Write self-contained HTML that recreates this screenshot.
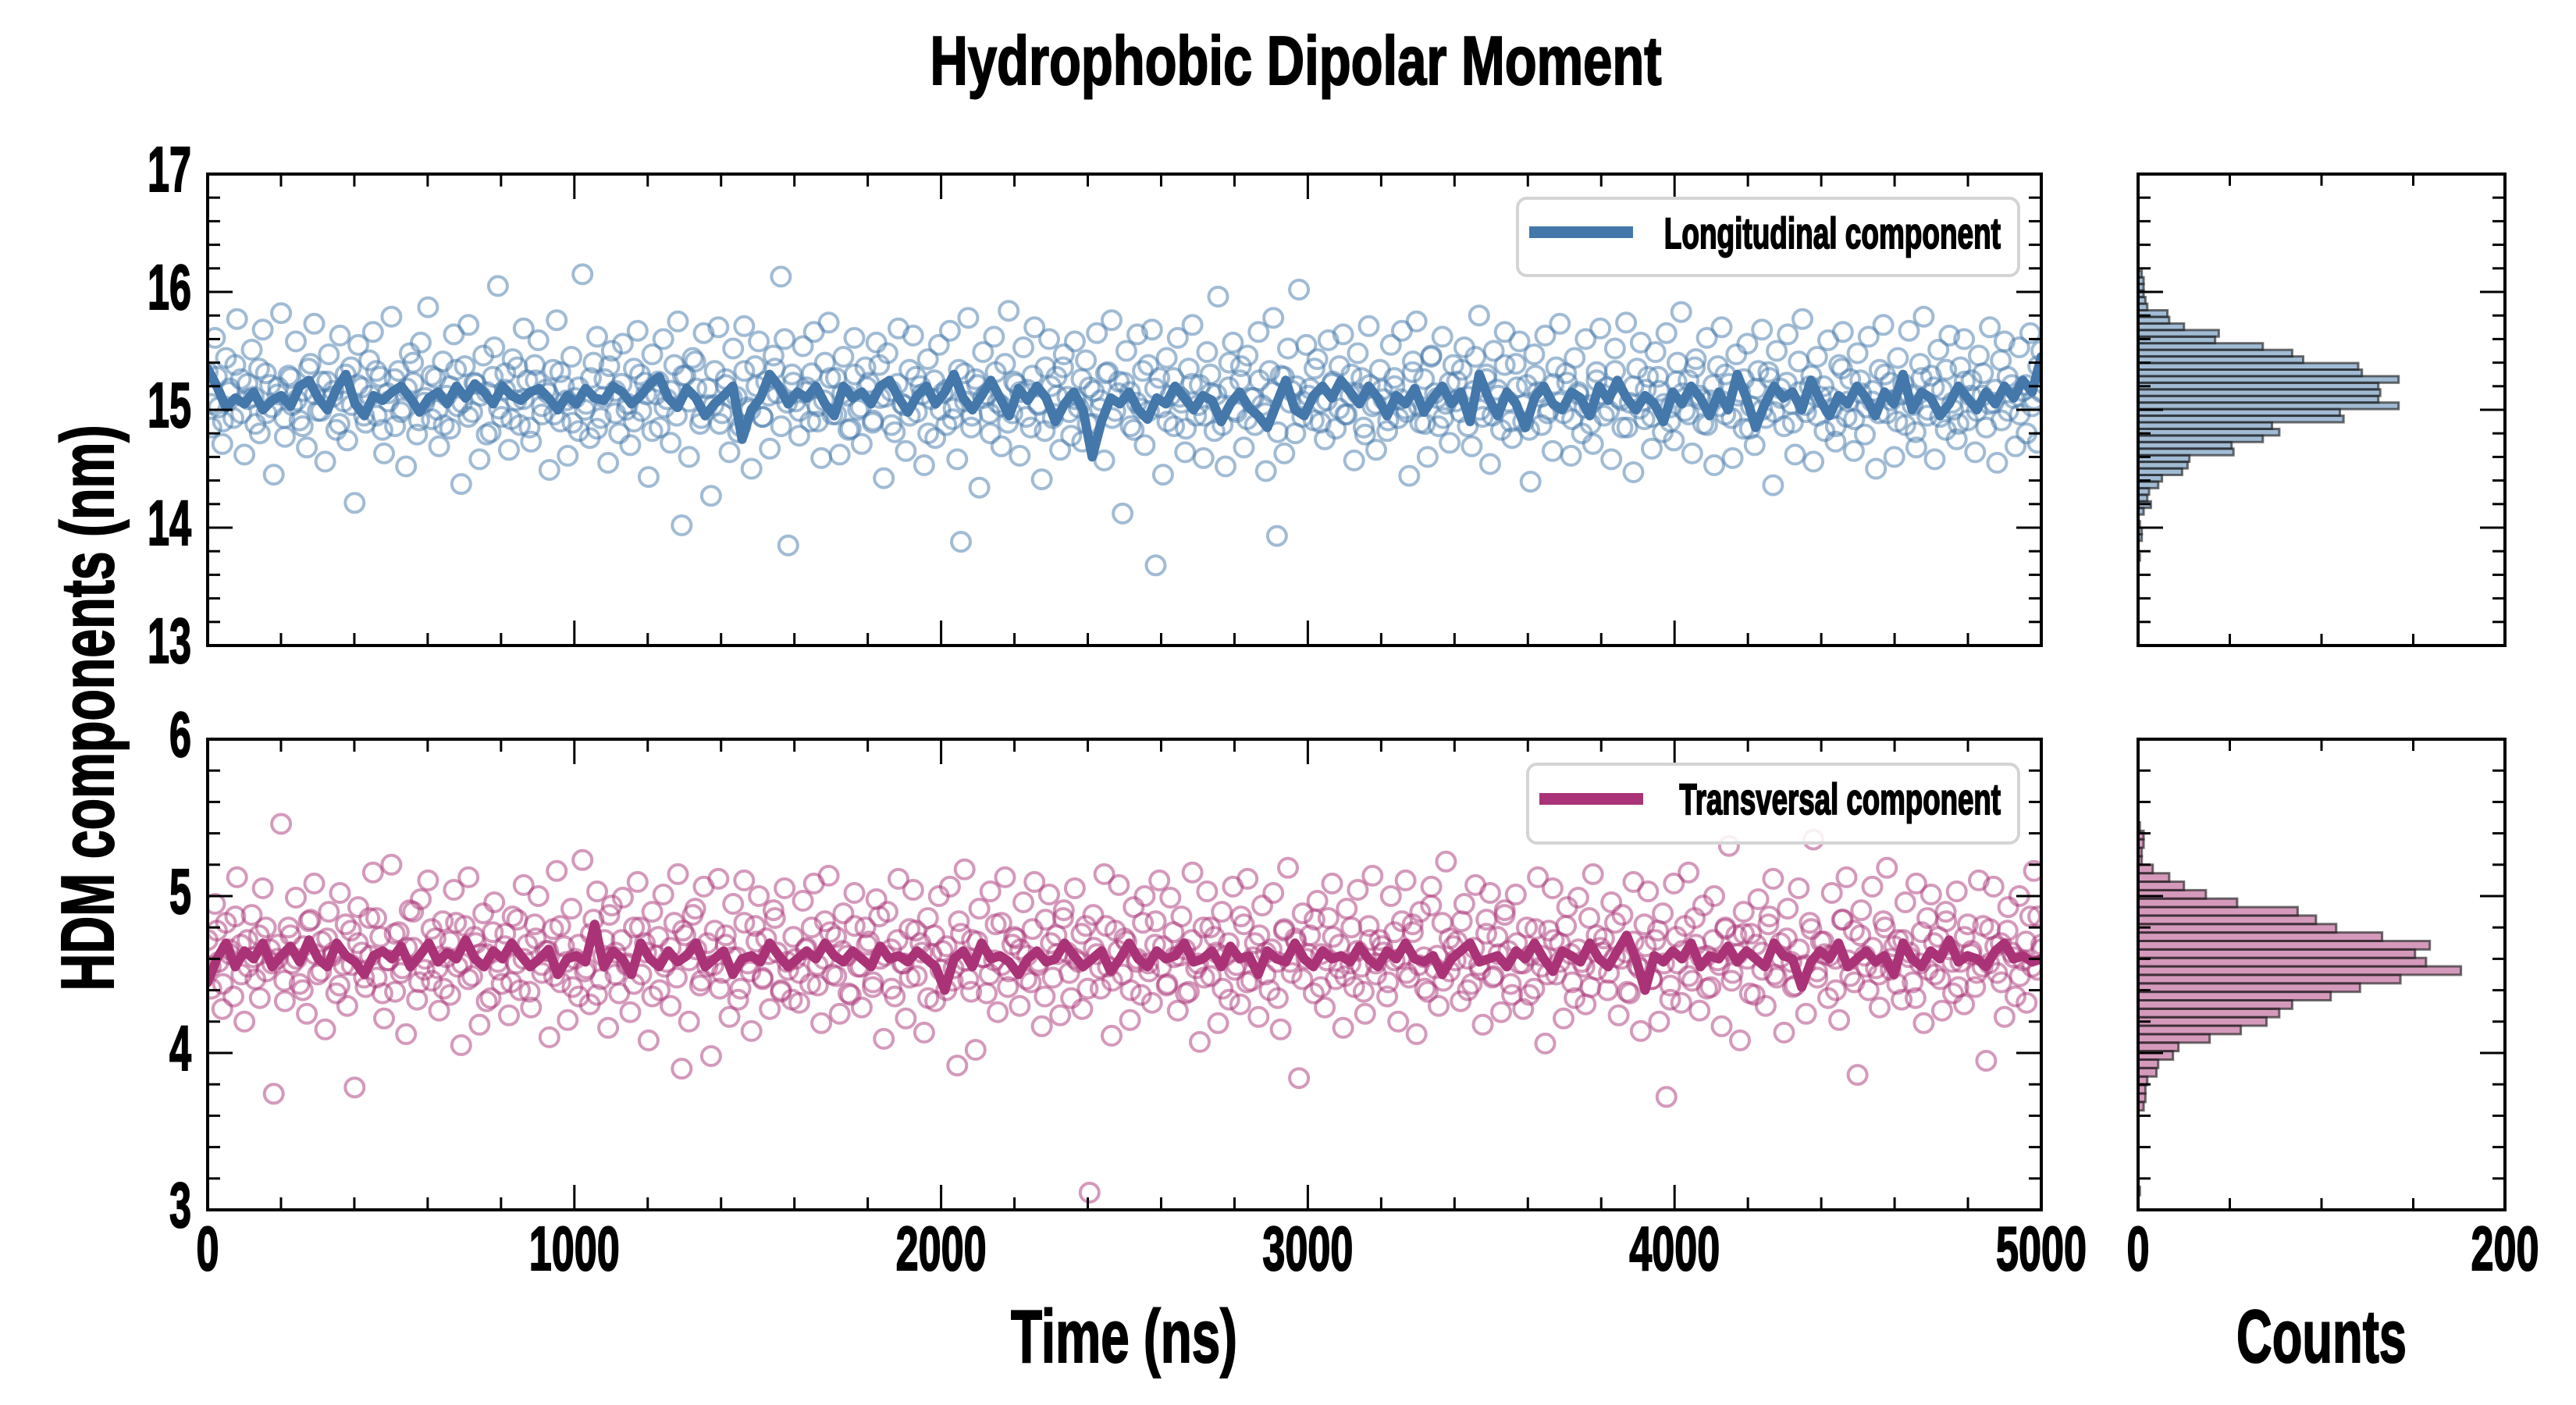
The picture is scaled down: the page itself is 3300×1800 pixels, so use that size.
<!DOCTYPE html>
<html><head><meta charset="utf-8"><title>Hydrophobic Dipolar Moment</title>
<style>html,body{margin:0;padding:0;background:#fff;}svg{display:block;}svg text{stroke:#000;stroke-width:2px;}</style></head>
<body>
<svg id="chart" xmlns="http://www.w3.org/2000/svg" width="3300" height="1800" viewBox="0 0 3300 1800" font-family="'Liberation Sans Narrow','Liberation Sans',sans-serif" font-weight="bold">
<defs>
<clipPath id="clipTop"><rect x="266" y="223" width="2349" height="604"/></clipPath>
<clipPath id="clipBot"><rect x="266" y="947" width="2349" height="603"/></clipPath>
</defs>
<rect x="0" y="0" width="3300" height="1800" fill="#fff"/>
<text x="1660" y="108" font-size="88" text-anchor="middle" textLength="937" lengthAdjust="spacingAndGlyphs">Hydrophobic Dipolar Moment</text>
<text transform="translate(145,907) rotate(-90)" font-size="96" text-anchor="middle" textLength="725" lengthAdjust="spacingAndGlyphs">HDM components (nm)</text>
<text x="1440" y="1745" font-size="96" text-anchor="middle" textLength="290" lengthAdjust="spacingAndGlyphs">Time (ns)</text>
<text x="2974" y="1745" font-size="96" text-anchor="middle" textLength="218" lengthAdjust="spacingAndGlyphs">Counts</text>
<g id="layer"></g>
</svg>
<script>
// ---------- DATA ----------
const longScatter = [
15.32,14.85,15.61,15.02,14.71,15.44,15.18,14.93,15.77,15.26,14.62,15.09,15.51,14.88,15.35,15.68,14.97,15.21,14.45,15.13,
15.82,14.77,15.29,15.04,15.58,14.91,15.16,14.68,15.39,15.73,14.99,15.24,14.56,15.47,15.11,14.83,15.63,15.07,14.74,15.36,
14.21,15.55,15.19,14.89,15.42,15.66,14.95,15.28,14.63,15.14,15.79,14.86,15.33,15.01,14.52,15.48,15.23,14.79,15.57,15.06,
15.87,14.92,15.27,14.69,15.41,15.12,14.84,15.64,15.03,14.37,15.37,15.72,14.98,15.22,14.58,15.46,15.15,14.81,15.53,16.05,
14.94,15.31,14.66,15.43,15.08,14.87,15.69,15.25,14.73,15.38,15.59,14.96,15.17,14.49,15.34,15.76,14.9,15.2,14.61,15.45,
15.1,14.82,16.15,15.05,14.76,15.4,15.62,14.93,15.26,14.55,15.5,15.16,14.8,15.56,15.0,14.7,15.35,15.67,14.99,15.23,
14.43,15.47,15.13,14.85,15.6,15.09,14.72,15.38,15.75,14.02,15.29,14.6,15.44,15.18,14.88,15.65,15.04,14.27,15.33,15.7,
14.97,15.21,14.64,15.52,15.11,14.86,15.71,15.02,14.5,15.37,15.58,14.94,15.24,14.67,15.46,15.14,16.13,15.6,13.85,15.3,
15.07,14.78,15.54,15.19,14.9,15.66,15.03,14.59,15.4,15.74,14.96,15.27,14.62,15.45,15.12,14.84,15.61,15.0,14.71,15.36,
15.23,14.89,15.57,15.1,14.42,15.48,15.16,14.81,15.69,15.05,14.65,15.34,15.63,14.98,15.2,14.53,15.43,15.09,14.76,15.55,
15.14,14.87,15.67,15.01,14.58,13.88,15.31,15.78,14.95,15.26,14.34,15.49,15.13,14.8,15.62,15.06,14.69,15.39,15.84,14.97,
15.22,14.61,15.53,15.17,14.85,15.7,15.04,14.41,15.36,15.6,14.93,15.28,14.66,15.47,15.11,14.78,15.58,15.02,14.73,15.42,
15.19,14.88,15.65,15.08,14.57,15.32,15.76,14.99,15.24,14.12,15.5,15.15,14.83,15.64,15.01,14.7,15.38,15.68,13.68,15.27,
14.45,15.44,15.12,14.86,15.61,15.06,14.64,15.35,15.72,14.95,15.21,14.59,15.49,15.14,14.82,15.96,15.03,14.52,15.4,15.57,
14.98,15.25,14.68,15.46,15.1,14.87,15.66,15.04,14.48,15.33,15.78,13.93,15.29,14.63,15.52,15.16,14.8,16.02,15.07,15.55,
15.18,14.91,15.43,15.06,14.75,15.59,15.22,14.84,15.37,15.64,14.96,15.12,14.57,15.48,15.27,14.79,15.71,15.03,14.66,15.34,
15.09,14.82,15.55,15.2,14.93,15.67,15.01,14.44,15.41,15.75,14.89,15.26,14.6,15.46,15.14,14.86,15.62,15.05,14.72,15.38,
15.24,14.98,15.53,15.11,14.69,15.45,15.8,14.94,15.3,14.54,15.5,15.17,14.83,15.66,15.07,14.76,15.39,15.58,14.9,15.21,
14.39,15.47,15.15,14.87,15.63,15.0,14.65,15.36,15.73,14.97,15.23,14.61,15.44,15.13,14.8,15.6,15.04,14.71,15.32,15.69,
14.95,15.19,14.58,15.52,15.1,14.85,15.74,15.06,14.47,15.35,15.57,14.92,15.28,14.67,15.49,15.16,14.81,15.65,15.02,14.74,
15.4,15.83,14.99,15.25,14.63,15.43,15.12,14.88,15.61,15.08,14.53,15.37,15.7,14.96,15.22,14.59,15.47,15.15,14.84,15.56,
15.03,14.7,15.33,15.68,14.93,15.27,14.36,15.5,15.18,14.86,15.64,15.05,14.62,15.41,15.77,14.98,15.2,14.56,15.45,15.11,
14.82,15.59,15.01,14.73,15.38,15.66,14.94,15.26,14.65,15.48,15.14,14.79,15.62,15.07,14.5,15.34,15.72,14.97,15.23,14.6,
15.44,15.13,14.87,15.67,15.04,14.68,15.39,15.79,14.95,15.29,14.58,15.51,15.17,14.83,15.63,15.0,14.75,15.36,15.6,14.91,
15.25,14.64,15.46,15.12,14.85,15.7,15.06,14.55,15.42,15.58,14.99,15.21,14.69,15.53,15.16,14.8,15.65,15.09,14.72,15.5];
const longScatterB = [
15.05,15.28,14.9,15.15,15.38,14.97,15.22,15.11,14.8,15.31,15.02,15.19,14.93,15.27,15.08,14.86,15.35,15.13,14.99,15.24,
15.16,14.88,15.3,15.04,15.21,14.95,15.12,15.33,14.83,15.07,15.26,14.98,15.18,15.4,14.91,15.1,15.29,15.0,14.87,15.2,
15.34,15.06,14.94,15.23,15.12,14.79,15.28,15.01,15.17,14.92,15.36,15.09,14.85,15.25,15.03,15.14,14.96,15.32,15.08,14.89,
15.19,15.0,15.27,14.84,15.11,15.37,14.97,15.22,15.05,14.9,15.3,15.13,14.82,15.24,15.02,15.16,14.95,15.29,15.07,15.41,
14.93,15.18,15.04,14.88,15.26,15.1,14.81,15.33,15.0,15.2,14.94,15.12,15.35,14.86,15.06,15.23,14.99,15.15,15.31,14.9,
15.08,15.27,14.96,15.14,14.83,15.3,15.02,15.19,14.91,15.38,15.11,14.87,15.22,15.04,14.95,15.28,15.13,14.8,15.25,15.0,
15.17,14.92,15.34,15.07,14.85,15.21,15.1,14.97,15.32,15.03,14.89,15.24,15.15,14.94,15.29,15.05,14.82,15.2,15.12,15.36,
14.98,15.09,15.26,14.88,15.16,15.01,15.31,14.93,15.14,15.23,14.86,15.06,15.33,14.99,15.18,15.02,14.9,15.27,15.11,14.84,
15.22,15.04,14.95,15.3,15.13,14.87,15.19,15.0,15.37,14.92,15.1,15.25,14.97,15.15,14.81,15.28,15.06,15.2,14.94,15.12,
15.35,14.89,15.08,15.24,15.01,14.96,15.3,15.14,14.85,15.21,15.05,15.17,14.91,15.27,15.09,14.98,15.32,15.03,14.88,15.45,
15.1,14.93,15.23,15.07,15.34,14.86,15.16,15.0,15.26,14.95,15.12,15.38,14.9,15.19,15.04,14.83,15.29,15.11,14.97,15.22,
15.06,15.31,14.92,15.15,15.02,14.88,15.25,15.13,14.99,15.33,15.08,14.85,15.2,15.01,15.17,14.94,15.28,15.05,14.9,15.24,
15.14,14.96,15.36,15.09,14.87,15.21,15.03,15.3,14.93,15.12,15.26,14.84,15.18,15.0,15.32,14.98,15.1,15.23,14.89,15.15,
15.04,15.29,14.95,15.2,15.11,14.86,15.35,15.07,14.92,15.25,15.02,15.16,14.97,15.3,15.08,14.9,15.22,15.13,14.81,15.27,
15.0,15.19,14.94,15.34,15.06,14.88,15.24,15.12,14.99,15.31,15.05,15.17,14.91,15.28,15.1,14.96,15.21,15.03,15.37,15.15];
const transScatter = [
4.72,4.41,4.95,4.58,4.28,4.83,4.63,4.36,5.12,4.69,4.2,4.55,4.88,4.47,4.75,5.05,4.52,4.66,3.74,4.6,
5.46,4.33,4.8,4.57,4.99,4.44,4.68,4.25,4.85,5.08,4.5,4.71,4.15,4.9,4.62,4.38,5.02,4.56,4.3,4.78,
3.78,4.93,4.64,4.42,4.86,5.15,4.48,4.74,4.22,4.59,5.2,4.39,4.77,4.54,4.12,4.91,4.67,4.34,4.98,4.53,
5.1,4.46,4.73,4.27,4.84,4.61,4.37,5.04,4.55,4.05,4.81,5.12,4.49,4.7,4.18,4.89,4.63,4.35,4.96,4.58,
4.44,4.76,4.24,4.87,4.57,4.4,5.07,4.69,4.29,4.82,5.0,4.51,4.65,4.1,4.79,5.16,4.45,4.68,4.21,4.92,
4.6,4.36,5.23,4.54,4.31,4.85,5.03,4.47,4.72,4.16,4.94,4.64,4.38,4.99,4.56,4.26,4.8,5.09,4.5,4.7,
4.08,4.9,4.62,4.4,5.01,4.58,4.3,4.83,5.14,3.9,4.75,4.2,4.88,4.66,4.43,5.06,4.55,3.98,4.78,5.11,
4.51,4.69,4.23,4.95,4.61,4.41,5.1,4.57,4.14,4.81,5.0,4.48,4.73,4.28,4.91,4.64,4.39,5.05,4.53,4.34,
4.6,4.32,4.97,4.67,4.44,5.08,4.56,4.19,4.84,5.13,4.5,4.74,4.25,4.89,4.62,4.37,5.02,4.55,4.29,4.8,
4.71,4.42,4.98,4.6,4.09,4.9,4.66,4.36,5.11,4.57,4.22,4.79,5.04,4.49,4.7,4.13,4.86,4.63,4.33,5.0,
4.65,4.4,5.06,4.54,3.92,4.76,5.17,4.47,4.72,4.02,4.92,4.61,4.38,5.03,4.59,4.26,4.83,5.12,4.52,4.69,
4.73,4.3,4.96,4.62,4.45,5.09,4.56,4.17,4.85,5.01,4.48,4.75,4.24,4.91,4.64,4.35,5.05,4.58,4.28,4.81,
3.11,4.88,4.63,4.41,5.14,4.55,4.11,4.78,5.07,4.5,4.71,4.21,4.93,4.6,4.37,5.0,4.57,4.32,4.84,5.1,
4.68,4.43,4.99,4.61,4.27,4.87,4.66,4.39,5.15,4.54,4.07,4.8,5.03,4.49,4.74,4.19,4.9,4.62,4.34,5.06,
4.56,4.31,4.82,5.11,4.46,4.7,4.23,4.94,4.64,4.4,5.02,4.58,4.15,4.79,5.18,4.51,4.73,3.84,4.89,4.6,
4.75,4.38,4.97,4.63,4.29,4.86,5.08,4.47,4.69,4.16,4.92,4.57,4.42,5.04,4.55,4.25,4.81,5.13,4.5,4.72,
4.64,4.36,5.0,4.59,4.2,4.84,5.1,4.48,4.77,4.12,4.9,4.61,4.39,5.06,4.54,4.3,4.83,5.22,4.52,4.68,
4.71,4.33,4.95,4.6,4.44,5.07,4.56,4.18,4.85,5.02,4.49,4.74,4.26,4.91,4.65,4.37,5.01,4.57,4.28,4.8,
4.62,4.41,5.12,4.55,4.06,4.78,5.05,4.5,4.7,4.22,4.93,4.63,4.35,4.99,4.58,4.31,4.86,5.14,4.53,4.67,
4.73,4.4,4.96,4.61,4.24,4.88,4.64,4.38,5.09,4.56,4.14,4.82,5.03,4.47,4.72,4.2,4.89,3.72,4.34,5.08,
4.57,4.32,4.81,5.15,4.46,4.69,4.27,4.94,4.62,4.42,5.0,4.59,4.17,4.79,5.32,4.51,4.75,4.08,4.9,4.6,
4.76,4.37,4.98,4.64,4.3,4.87,5.11,4.48,4.7,4.13,4.92,4.58,4.43,5.05,4.55,4.25,4.83,5.36,4.52,4.71,
4.63,4.35,5.02,4.6,4.21,4.85,5.12,4.49,4.78,3.86,4.91,4.62,4.4,5.06,4.54,4.29,4.84,5.18,4.53,4.68,
4.72,4.34,4.96,4.61,4.45,5.08,4.57,4.19,4.86,5.01,4.5,4.74,4.27,4.9,4.66,4.38,5.03,4.58,4.31,4.82,
4.65,4.42,5.1,4.55,3.95,4.79,5.06,4.51,4.7,4.23,4.93,4.64,4.36,5.0,4.59,4.32,4.87,5.16,4.53,4.69];
const transScatterB = [
4.55,4.78,4.44,4.66,4.87,4.5,4.72,4.61,4.35,4.8,4.57,4.69,4.46,4.75,4.6,4.4,4.84,4.63,4.52,4.73,
4.64,4.43,4.82,4.56,4.7,4.48,4.62,4.86,4.38,4.59,4.76,4.51,4.67,4.9,4.45,4.6,4.79,4.54,4.41,4.71,
4.83,4.57,4.47,4.74,4.63,4.33,4.77,4.53,4.68,4.45,4.85,4.6,4.39,4.73,4.56,4.65,4.49,4.81,4.58,4.42,
4.69,4.52,4.76,4.37,4.62,4.88,4.5,4.72,4.57,4.44,4.8,4.64,4.36,4.74,4.55,4.67,4.48,4.78,4.59,4.92,
4.46,4.7,4.56,4.41,4.75,4.61,4.34,4.83,4.52,4.71,4.47,4.63,4.86,4.4,4.58,4.74,4.51,4.66,4.8,4.43,
4.6,4.77,4.49,4.65,4.38,4.81,4.55,4.69,4.45,4.87,4.62,4.41,4.72,4.57,4.48,4.78,4.64,4.35,4.75,4.53,
4.68,4.46,4.84,4.59,4.39,4.71,4.61,4.5,4.82,4.56,4.42,4.74,4.66,4.47,4.79,4.58,4.36,4.7,4.63,4.86,
4.51,4.6,4.76,4.41,4.67,4.54,4.81,4.46,4.65,4.73,4.4,4.58,4.83,4.52,4.69,4.55,4.44,4.77,4.62,4.38,
4.72,4.57,4.48,4.8,4.64,4.41,4.7,4.53,4.87,4.45,4.61,4.75,4.5,4.66,4.35,4.78,4.58,4.71,4.47,4.63,
4.85,4.42,4.59,4.74,4.54,4.49,4.8,4.65,4.39,4.72,4.57,4.68,4.45,4.77,4.6,4.51,4.82,4.56,4.41,4.94,
4.62,4.46,4.73,4.59,4.84,4.4,4.67,4.53,4.76,4.48,4.63,4.88,4.44,4.7,4.57,4.37,4.79,4.62,4.5,4.72,
4.58,4.81,4.45,4.66,4.55,4.42,4.75,4.64,4.51,4.83,4.6,4.39,4.71,4.54,4.68,4.47,4.78,4.57,4.43,4.74,
4.65,4.49,4.86,4.61,4.41,4.72,4.56,4.8,4.46,4.63,4.76,4.38,4.69,4.53,4.82,4.5,4.61,4.73,4.42,4.66,
4.56,4.79,4.48,4.71,4.62,4.4,4.85,4.59,4.45,4.75,4.55,4.67,4.5,4.8,4.6,4.44,4.72,4.64,4.35,4.77,
4.53,4.7,4.47,4.84,4.58,4.42,4.74,4.63,4.51,4.81,4.57,4.68,4.45,4.78,4.61,4.49,4.71,4.55,4.87,4.66];
const longLine = [
15.35,15.2,15.02,15.1,15.05,15.15,15.0,15.08,15.12,15.03,15.2,15.25,15.1,15.0,15.18,15.3,15.05,14.95,15.12,15.08,
15.15,15.2,15.1,14.98,15.1,15.15,15.05,15.2,15.1,15.22,15.15,15.05,15.2,15.12,15.08,15.15,15.18,15.1,15.0,15.12,
15.05,15.18,15.1,15.08,15.2,15.15,15.05,15.12,15.22,15.28,15.1,15.02,15.18,15.1,14.95,15.05,15.12,15.2,14.75,15.0,
15.1,15.3,15.2,15.05,15.15,15.1,15.2,15.05,14.95,15.2,15.1,15.15,15.05,15.2,15.25,15.1,14.98,15.12,15.2,15.05,
15.15,15.3,15.1,15.0,15.12,15.25,15.1,14.95,15.18,15.08,15.2,15.1,14.9,15.05,15.15,15.0,14.6,14.9,15.1,15.05,
15.15,15.0,14.92,15.1,15.05,15.2,15.1,15.0,15.12,15.08,14.9,15.05,15.15,15.02,14.95,14.85,15.05,15.25,15.0,14.95,
15.12,15.2,15.1,15.25,15.15,15.05,15.2,15.1,14.95,15.12,15.05,15.18,14.98,15.1,15.2,15.05,15.15,14.9,15.3,15.1,
14.95,15.15,15.05,14.85,15.1,15.2,15.05,15.0,15.15,15.1,14.95,15.2,15.08,15.25,15.1,15.0,15.12,15.05,14.9,15.15,
15.05,15.2,15.1,14.95,15.15,15.0,15.3,15.1,14.85,15.05,15.2,15.1,15.15,15.0,15.25,15.08,14.95,15.12,15.05,15.2,
15.1,14.95,15.15,15.05,15.3,15.0,15.15,15.1,14.95,15.05,15.2,15.1,15.0,15.15,15.05,15.2,15.1,15.25,15.15,15.45];
const transLine = [
4.45,4.6,4.7,4.55,4.65,4.6,4.7,4.55,4.62,4.68,4.58,4.72,4.6,4.55,4.7,4.62,4.58,4.5,4.62,4.65,
4.6,4.68,4.55,4.62,4.7,4.58,4.64,4.6,4.72,4.6,4.55,4.65,4.6,4.7,4.62,4.55,4.6,4.66,4.5,4.6,
4.62,4.58,4.82,4.55,4.65,4.6,4.5,4.7,4.6,4.55,4.65,4.58,4.62,4.7,4.55,4.6,4.65,4.5,4.6,4.62,
4.58,4.7,4.62,4.55,4.6,4.65,4.6,4.7,4.62,4.58,4.65,4.6,4.55,4.68,4.6,4.62,4.58,4.65,4.6,4.55,
4.4,4.6,4.65,4.55,4.7,4.6,4.62,4.58,4.5,4.6,4.65,4.58,4.6,4.7,4.62,4.55,4.6,4.65,4.52,4.6,
4.7,4.6,4.55,4.65,4.6,4.62,4.7,4.58,4.6,4.65,4.55,4.68,4.6,4.62,4.5,4.65,4.6,4.58,4.7,4.6,
4.55,4.65,4.6,4.62,4.58,4.68,4.6,4.55,4.65,4.6,4.7,4.6,4.58,4.62,4.5,4.6,4.65,4.7,4.58,4.6,
4.62,4.55,4.65,4.6,4.7,4.6,4.52,4.65,4.62,4.58,4.7,4.6,4.55,4.65,4.75,4.6,4.4,4.62,4.58,4.65,
4.6,4.7,4.55,4.62,4.6,4.68,4.58,4.65,4.6,4.55,4.7,4.62,4.6,4.42,4.58,4.65,4.6,4.7,4.55,4.6,
4.65,4.58,4.62,4.5,4.7,4.6,4.55,4.65,4.6,4.72,4.58,4.62,4.6,4.55,4.65,4.7,4.6,4.62,4.58,4.6];
// histogram counts, bins listed from lowest value upward
const longHistCounts = [1,0,0,2,2,1,0,3,7,5,6,11,13,24,27,28,52,51,68,77,73,112,110,142,131,132,131,142,122,120,90,84,68,42,44,25,17,16,5,4,3,3,3,2];
const longHistStart = 13.72;
const longHistWidth = 0.0559;
const transHistCounts = [1,0,0,0,0,0,0,0,0,0,3,4,4,5,10,11,19,22,39,56,70,77,84,105,121,143,176,157,151,159,133,108,97,87,54,37,25,17,8,2,2,3,3,1];
const transHistStart = 3.094;
const transHistWidth = 0.054;
const timeTicks = [0,1000,2000,3000,4000,5000];
const topYTicks = [13,14,15,16,17];
const botYTicks = [3,4,5,6];
const countTicks = [0,200];
const T_MAX = 5000;

// ---------- LAYOUT ----------
const NS = 'http://www.w3.org/2000/svg';
const layer = document.getElementById('layer');
const MX0 = 266, MX1 = 2615, HX0 = 2739, HX1 = 3209;
const panels = {
  top: {y0: 223, y1: 827, min: 13, max: 17},
  bot: {y0: 947, y1: 1550, min: 3, max: 6}
};
function xT(t) { return MX0 + (t / T_MAX) * (MX1 - MX0); }
function xC(c) { return HX0 + (c / 200) * (HX1 - HX0); }
function yS(p, v) { return p.y1 - (v - p.min) / (p.max - p.min) * (p.y1 - p.y0); }
function el(tag, attrs, parent) {
  const e = document.createElementNS(NS, tag);
  for (const k in attrs) e.setAttribute(k, attrs[k]);
  (parent || layer).appendChild(e);
  return e;
}

function drawPoints(p, scatter, offset, color, g, key) {
  const dt = T_MAX / (scatter.length - 1);
  scatter.forEach((v, i) => {
    const t = Math.min(T_MAX, i * dt + offset * dt);
    const c = el('circle', {cx: xT(t).toFixed(1), cy: yS(p, v).toFixed(1), r: 12, fill: 'none', stroke: color, 'stroke-width': 4, 'stroke-opacity': 0.5}, g);
    
    
  });
}

function drawScatterPanel(p, scatter, scatterB, line, color, clipId, key) {
  const g = el('g', {'clip-path': 'url(#' + clipId + ')'});
  
  
  drawPoints(p, scatter, 0, color, g, key);
  drawPoints(p, scatterB, 0.5, color, g, key);
  const dl = T_MAX / (line.length - 1);
  const pts = line.map((v, i) => xT(i * dl).toFixed(1) + ',' + yS(p, v).toFixed(1)).join(' ');
  const pl = el('polyline', {points: pts, fill: 'none', stroke: color, 'stroke-width': 12, 'stroke-linejoin': 'round', 'stroke-linecap': 'round'}, g);
  
  
}

function drawHist(p, counts, start, width, fill, key) {
  const g = el('g', {});
  
  
  counts.forEach((c, i) => {
    if (c <= 0) return;
    const ya = yS(p, start + (i + 1) * width), yb = yS(p, start + i * width);
    const r = el('rect', {x: HX0, y: ya.toFixed(1), width: (xC(c) - HX0).toFixed(1), height: (yb - ya).toFixed(1), fill: fill, stroke: '#222', 'stroke-opacity': 0.65, 'stroke-width': 3}, g);
    
    
  });
}

function tick(x1, y1, x2, y2, g) {
  el('line', {x1: x1, y1: y1, x2: x2, y2: y2, stroke: '#000', 'stroke-width': 3}, g);
}

function drawAxesFrame(p, xa, xb, key, isHist, yTicks, showX) {
  const g = el('g', {});
  
  
  for (let v = p.min; v <= p.max + 1e-6; v += 0.2) {
    const y = yS(p, v);
    const major = Math.abs(v - Math.round(v)) < 1e-6;
    const L = major ? 32 : 16;
    tick(xa, y, xa + L, y, g);
    tick(xb, y, xb - L, y, g);
  }
  if (!isHist) {
    for (let t = 0; t <= T_MAX; t += 200) {
      const x = xT(t);
      const L = (t % 1000 === 0) ? 32 : 16;
      tick(x, p.y0, x, p.y0 + L, g);
      tick(x, p.y1, x, p.y1 - L, g);
    }
    yTicks.forEach(v => {
      const t = el('text', {x: 245, y: yS(p, v) + 22, 'font-size': 82, 'text-anchor': 'end', textLength: 28 * String(v).length, lengthAdjust: 'spacingAndGlyphs'}, g);
      t.textContent = v;
      
      
    });
    if (showX) {
      timeTicks.forEach(v => {
        const t = el('text', {x: xT(v), y: 1627, 'font-size': 80, 'text-anchor': 'middle', textLength: 29 * String(v).length, lengthAdjust: 'spacingAndGlyphs'}, g);
        t.textContent = v;
        
        
      });
    }
  } else {
    [50, 100, 150].forEach(c => {
      const x = xC(c);
      tick(x, p.y0, x, p.y0 + 15, g);
      tick(x, p.y1, x, p.y1 - 15, g);
    });
    if (showX) {
      countTicks.forEach(v => {
        const t = el('text', {x: xC(v), y: 1627, 'font-size': 80, 'text-anchor': 'middle', textLength: 29 * String(v).length, lengthAdjust: 'spacingAndGlyphs'}, g);
        t.textContent = v;
        
        
      });
    }
  }
  const fr = el('rect', {x: xa, y: p.y0, width: xb - xa, height: p.y1 - p.y0, fill: 'none', stroke: '#000', 'stroke-width': 4}, g);
  
  
}

function drawLegend(x, y, w, h, color, label, key) {
  const g = el('g', {});
  
  
  el('rect', {x: x, y: y, width: w, height: h, rx: 12, fill: '#fff', 'fill-opacity': 0.85, stroke: '#d4d4d4', 'stroke-width': 4}, g);
  const ln = el('line', {x1: x + 15, y1: y + h * 0.44, x2: x + 148, y2: y + h * 0.44, stroke: color, 'stroke-width': 15}, g);
  
  
  const t = el('text', {x: x + w - 23, y: y + 64, 'font-size': 56, 'text-anchor': 'end', textLength: label.length * 19.6, lengthAdjust: 'spacingAndGlyphs'}, g);
  t.textContent = label;
  
  
}

drawScatterPanel(panels.top, longScatter, longScatterB, longLine, '#4477aa', 'clipTop', 'longitudinal');
drawScatterPanel(panels.bot, transScatter, transScatterB, transLine, '#aa3377', 'clipBot', 'transversal');
drawHist(panels.top, longHistCounts, longHistStart, longHistWidth, 'rgba(68,119,170,0.5)', 'longitudinal');
drawHist(panels.bot, transHistCounts, transHistStart, transHistWidth, 'rgba(170,51,119,0.5)', 'transversal');
drawAxesFrame(panels.top, MX0, MX1, 'longitudinal-main', false, topYTicks, false);
drawAxesFrame(panels.bot, MX0, MX1, 'transversal-main', false, botYTicks, true);
drawAxesFrame(panels.top, HX0, HX1, 'longitudinal-hist', true, [], false);
drawAxesFrame(panels.bot, HX0, HX1, 'transversal-hist', true, [], true);
drawLegend(1944, 254, 642, 99, '#4477aa', 'Longitudinal component', 'longitudinal');
drawLegend(1957, 979, 629, 101, '#aa3377', 'Transversal component', 'transversal');
</script>
</body></html>
